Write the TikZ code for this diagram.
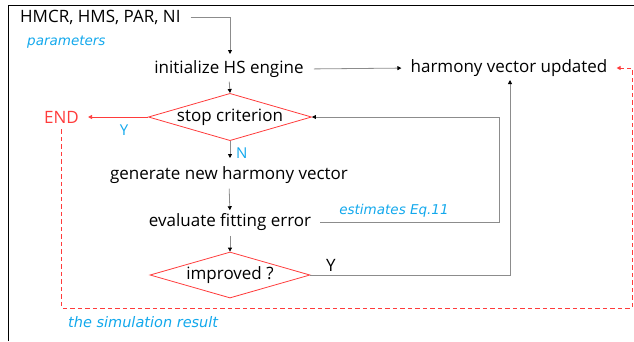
\documentclass[tikz,border=0pt]{standalone}
\usepackage{fontspec}
\setmainfont{Open Sans}
\newfontfamily\notefont{DejaVu Sans}
\usetikzlibrary{arrows.meta,shapes.geometric}
\definecolor{flowred}{HTML}{FF3B3B}
\definecolor{notecyan}{HTML}{12A8EC}
\definecolor{linegray}{HTML}{8C8C8C}
\tikzset{
  txt/.style={inner sep=0pt, font=\fontsize{17}{19}\selectfont},
  decision/.style={diamond, draw=flowred, line width=0.8pt, aspect=3.45,
    minimum width=160pt, minimum height=46pt, inner sep=0pt,
    font=\fontsize{17}{19}\selectfont},
  note/.style={inner sep=0pt, text=notecyan, font=\notefont\itshape\fontsize{13.5}{15}\selectfont},
  conn/.style={draw=linegray, line width=0.8pt, -{Triangle[length=4pt,width=4pt,color=black]}},
  redconn/.style={draw=flowred, line width=0.8pt, -{Triangle[length=4pt,width=4pt]}},
  reddash/.style={draw=flowred, line width=1pt, dash pattern=on 4.5pt off 3pt,
    -{Triangle[length=4pt,width=4pt]}},
}
\begin{document}
\begin{tikzpicture}[x=1pt,y=-1pt]
\useasboundingbox (0,0) rectangle (634,341);
% frame
\draw[black, line width=0.9pt] (8,341) -- (8,5) -- (634,5);

% nodes
\node[txt, anchor=west] (params) at (20,17) {HMCR, HMS, PAR, NI};
\node[note, anchor=west] (paramsnote) at (27,42) {parameters};
\node[txt] (init) at (229,69) {initialize HS engine};
\node[txt] (update) at (509,68) {harmony vector updated};
\node[decision] (stop) at (230,117) {stop criterion};
\node[txt, text=flowred, anchor=west] (end) at (44,117) {END};
\node[txt] (gen) at (229,175) {generate new harmony vector};
\node[txt] (eval) at (230,222) {evaluate fitting error};
\node[decision] (impr) at (230,275) {improved ?};
\node[note] (estim) at (394,211) {estimates Eq.11};
\node[note, anchor=west, font=\notefont\itshape\fontsize{14.5}{16}\selectfont] (simres) at (68,322) {the simulation result};

% corner points
\coordinate (c1) at (230,17);
\coordinate (initTop) at (230,60);
\coordinate (loopA) at (499,222);
\coordinate (loopB) at (499,117);
\coordinate (upA) at (510,275);
\coordinate (updBot) at (510,80);
\coordinate (bottomLine) at (0,308);
\coordinate (dA) at (end.south |- bottomLine);
\coordinate (dB) at (632,308);
\coordinate (dC) at (632,68);

% connectors
\draw[conn, shorten <=10pt, shorten >=6pt] (params.east) -- (c1) -- (initTop);
\draw[conn, shorten <=10pt, shorten >=9pt] (init.east) -- (update.west);
\draw[conn, shorten <=4pt] (init.south) -- (stop.north);
\draw[redconn, shorten >=9pt] (stop.west) -- (end.east);
\node[txt, text=notecyan, font=\fontsize{15}{17}\selectfont] (ylab) at (124,130) {Y};
\draw[conn] (stop.south) -- (230,158);
\node[txt, text=notecyan, font=\fontsize{15}{17}\selectfont, anchor=west] (nlab) at (236,153) {N};
\draw[conn, shorten <=5pt, shorten >=3pt] (gen.south) -- (eval.north);
\draw[conn, shorten <=5pt] (eval.south) -- (impr.north);
\draw[conn, shorten <=9pt] (eval.east) -- (loopA) -- (loopB) -- (stop.east);
\draw[conn] (impr.east) -- (upA) -- (updBot);
\node[txt] (ylab2) at (331,265) {Y};
\draw[reddash, shorten <=6pt, shorten >=9pt] (end.south) -- (dA) -- (dB) -- (dC) -- (update.east);
\end{tikzpicture}
\end{document}
